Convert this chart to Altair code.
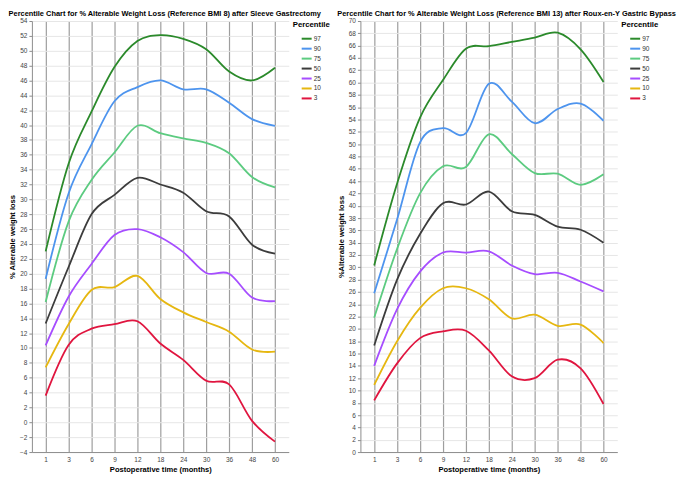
import altair as alt
import pandas as pd

months = ["1", "3", "6", "9", "12", "18", "24", "30", "36", "48", "60"]
percentiles = ["97", "90", "75", "50", "25", "10", "3"]
colors = ["#2b8a2b", "#4d94ee", "#5ccb80", "#3c3c3c", "#a64dff", "#e6b710", "#e0153f"]

# Sleeve Gastrectomy (Reference BMI 8)
sg_97 = [23.0, 34.8, 41.8, 47.8, 51.3, 52.1, 51.6, 50.2, 47.2, 46.0, 47.7]
sg_90 = [19.3, 30.8, 37.4, 43.2, 45.1, 46.0, 44.8, 44.8, 43.0, 40.8, 39.9]
sg_75 = [16.2, 27.0, 32.6, 36.3, 39.9, 38.9, 38.2, 37.6, 36.2, 33.0, 31.6]
sg_50 = [13.3, 20.9, 28.0, 30.6, 32.9, 32.0, 30.9, 28.4, 27.7, 23.9, 22.7]
sg_25 = [10.35, 16.9, 21.3, 25.2, 26.0, 24.9, 22.9, 20.1, 20.0, 16.8, 16.3]
sg_10 = [7.4, 13.2, 17.8, 18.2, 19.7, 16.6, 14.8, 13.5, 12.2, 9.8, 9.5]
sg_3 = [3.6, 10.4, 12.6, 13.2, 13.6, 10.6, 8.4, 5.6, 5.1, 0.2, -2.6]

# Roux-en-Y Gastric Bypass (Reference BMI 13)
rygb_97 = [30.3, 43.6, 54.3, 60.4, 65.5, 65.9, 66.6, 67.3, 68.1, 65.4, 60.1]
rygb_90 = [25.8, 37.8, 50.3, 52.6, 51.8, 59.8, 56.9, 53.4, 55.7, 56.6, 53.8]
rygb_75 = [21.8, 33.0, 42.0, 46.4, 46.3, 51.6, 48.4, 45.3, 45.2, 43.4, 45.1]
rygb_50 = [17.3, 28.0, 35.4, 40.4, 40.2, 42.3, 39.1, 38.5, 36.6, 36.1, 34.0]
rygb_25 = [14.0, 23.2, 29.3, 32.4, 32.4, 32.6, 30.3, 28.9, 29.1, 27.7, 26.1]
rygb_10 = [10.9, 18.0, 23.4, 26.6, 26.6, 24.8, 21.7, 22.3, 20.5, 20.7, 17.7]
rygb_3 = [8.4, 14.4, 18.5, 19.6, 19.7, 16.5, 12.3, 12.0, 15.0, 13.6, 7.8]

sg_series = [sg_97, sg_90, sg_75, sg_50, sg_25, sg_10, sg_3]
rygb_series = [rygb_97, rygb_90, rygb_75, rygb_50, rygb_25, rygb_10, rygb_3]


def long_frame(series):
    rows = []
    for p, vals in zip(percentiles, series):
        for m, v in zip(months, vals):
            rows.append({"month": m, "value": v, "Percentile": p})
    return pd.DataFrame(rows)


FONT = "Liberation Sans"


def panel(series, title, ytitle, lo, hi):
    df = long_frame(series)
    ticks = list(range(lo, hi + 1, 2))
    return (
        alt.Chart(df, title=alt.TitleParams(
            title, anchor="start", frame="bounds", fontSize=7.45, font=FONT,
            fontWeight="bold", color="#000000", offset=1))
        .mark_line(interpolate="cardinal", strokeWidth=1.8)
        .encode(
            x=alt.X("month:O", sort=months,
                    scale=alt.Scale(type="point", padding=0.6),
                    axis=alt.Axis(title="Postoperative time (months)", labelAngle=0,
                                  grid=True, gridColor="#9e9e9e", gridWidth=1.2,
                                  ticks=False, labelPadding=4, titlePadding=3)),
            y=alt.Y("value:Q", scale=alt.Scale(domain=[lo, hi], nice=False, zero=False),
                    axis=alt.Axis(title=ytitle, values=ticks, grid=True,
                                  gridColor="#e6e6e6", gridWidth=1,
                                  tickSize=3, labelPadding=2, titlePadding=3)),
            color=alt.Color("Percentile:N", sort=percentiles,
                            scale=alt.Scale(domain=percentiles, range=colors),
                            legend=alt.Legend(title="Percentile", orient="right", offset=4)),
            detail="Percentile:N",
        )
        .properties(width=258, height=433)
    )


left = panel(sg_series,
             "Percentile Chart for % Alterable Weight Loss (Reference BMI 8) after Sleeve Gastrectomy",
             "% Alterable weight loss", -4, 54)
right = panel(rygb_series,
              "Percentile Chart for % Alterable Weight Loss (Reference BMI 13) after Roux-en-Y Gastric Bypass",
              "%Alterable weight loss", 0, 70)

chart = (
    alt.hconcat(left, right, spacing=6)
    .resolve_scale(color="independent", y="independent")
    .properties(padding=0)
    .configure_view(stroke=None)
    .configure_axis(
        labelFont=FONT, titleFont=FONT, labelFontSize=6.5, titleFontSize=7.6,
        labelColor="#444444", titleColor="#000000", titleFontWeight="bold",
        domainColor="#8c8c8c", tickColor="#8c8c8c")
    .configure_legend(
        titleFont=FONT, labelFont=FONT, titleFontSize=7.8, titleFontWeight="bold",
        labelFontSize=6.5, labelColor="#333333", titleColor="#000000",
        symbolType="stroke", symbolStrokeWidth=2, symbolSize=100,
        symbolOffset=8, rowPadding=-2.5, titlePadding=4, labelOffset=1, padding=0)
)

chart.save("out.html", embed_options={"renderer": "svg", "actions": False})
